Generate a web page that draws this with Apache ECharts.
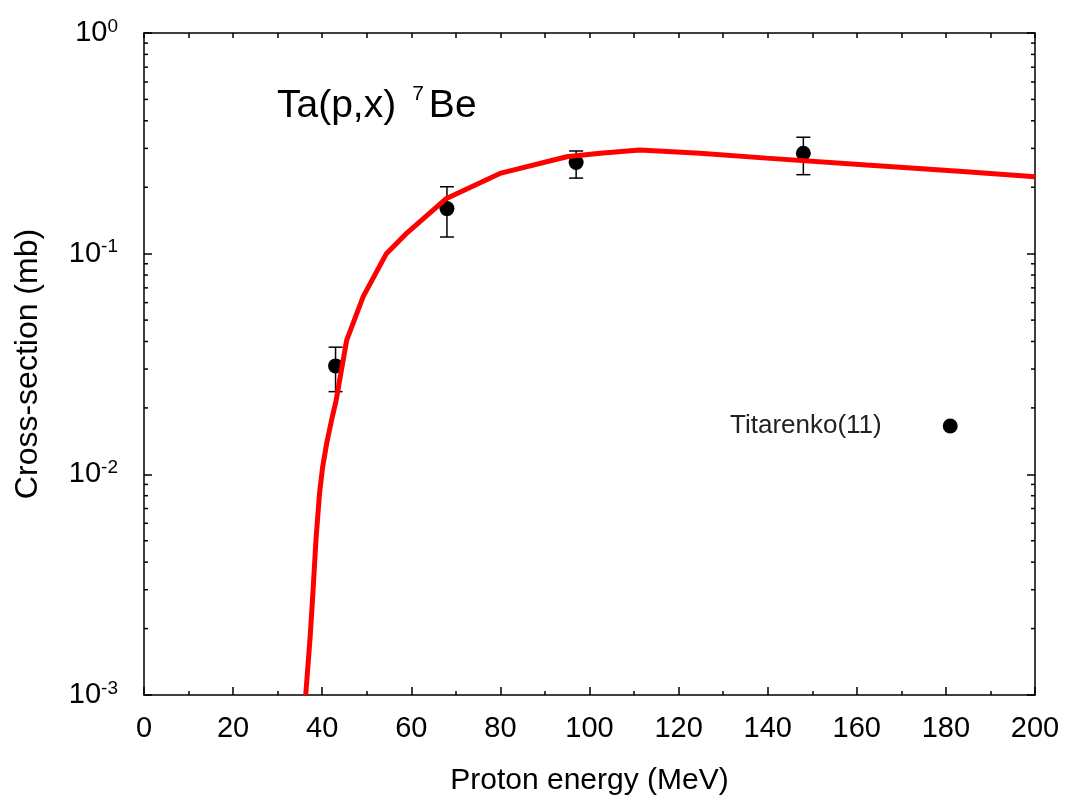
<!DOCTYPE html>
<html><head><meta charset="utf-8">
<script src="https://cdn.jsdelivr.net/npm/echarts@6/dist/echarts.min.js"></script>
<style>html,body{margin:0;padding:0;background:#fff}#c{width:1067px;height:804px}</style>
</head><body><div id="c"></div>
<script>
// ---- data ----
const curveE  = [36.3, 37.3, 38.0, 38.6, 39.4, 40.1, 41.0, 42.1, 43.1, 45.5, 49.2, 54.4, 59.0, 67.9, 79.9, 94.9, 102.4, 111.3, 124.8, 139.7, 162.2, 184.6, 200];
const curveXS = [0.00100, 0.00184, 0.0031, 0.00505, 0.0082, 0.0108, 0.0138, 0.0176, 0.0215, 0.0406, 0.0639, 0.100, 0.124, 0.178, 0.231, 0.275, 0.285, 0.295, 0.285, 0.271, 0.252, 0.235, 0.223];
const expE  = [43, 68, 97, 148];
const expXS = [0.031, 0.160, 0.259, 0.285];
const expLo = [0.0237, 0.119, 0.220, 0.228];
const expHi = [0.0377, 0.201, 0.292, 0.337];
const expName = 'Titarenko(11)';
const minorMult = [2, 3, 4, 5, 6, 7, 8, 9];
const decades = [0.001, 0.01, 0.1];

const FONT = "'Liberation Sans', Arial, sans-serif";
const minorVals = [];
decades.forEach(d => minorMult.forEach(m => minorVals.push([d * m])));

const chart = echarts.init(document.getElementById('c'));
chart.setOption({
  animation: false,
  backgroundColor: '#fff',
  textStyle: { fontFamily: FONT },
  title: {
    text: '{a|Ta(p,x)}{s|7}{a|Be}',
    left: 272, top: 79,
    textStyle: {
      fontWeight: 'normal', fontSize: 39, fontFamily: FONT,
      rich: {
        a: { fontSize: 39, lineHeight: 44, fontWeight: 'normal', color: '#000', fontFamily: FONT },
        s: { fontSize: 21, lineHeight: 21, fontWeight: 'normal', verticalAlign: 'top', color: '#000', fontFamily: FONT, padding: [0, 5, 0, 16] }
      }
    }
  },
  legend: {
    data: [{ name: expName, icon: 'circle', itemStyle: { color: '#000', opacity: 1 } }],
    left: 725, top: 408, align: 'right',
    itemWidth: 15, itemHeight: 15,
    textStyle: { fontSize: 26, color: '#222', fontFamily: FONT, padding: [0, 56, 0, 0] }
  },
  grid: { left: 144, right: 32, top: 33, bottom: 109, containLabel: false },
  xAxis: [{
    type: 'value', min: 0, max: 200, interval: 20, position: 'bottom',
    name: 'Proton energy (MeV)', nameLocation: 'middle', nameGap: 71,
    nameTextStyle: { fontSize: 30, fontWeight: 'normal', color: '#000', fontFamily: FONT },
    axisLine: { onZero: false, lineStyle: { color: '#000', width: 1.5 } },
    axisTick: { inside: true, length: 8, lineStyle: { color: '#000', width: 1.5 } },
    minorTick: { show: true, splitNumber: 2, length: 4, lineStyle: { color: '#000', width: 1.5 } },
    axisLabel: { fontSize: 29, color: '#000', margin: 19, fontFamily: FONT },
    splitLine: { show: false }
  }, {
    type: 'value', min: 0, max: 200, interval: 10, position: 'top',
    axisLine: { onZero: false, lineStyle: { color: '#000', width: 1.5 } },
    axisTick: { inside: true, length: 5, lineStyle: { color: '#000', width: 1.5 } },
    axisLabel: { show: false }, splitLine: { show: false }
  }],
  yAxis: [{
    type: 'log', logBase: 10, min: 0.001, max: 1, position: 'left',
    name: 'Cross-section (mb)', nameLocation: 'middle', nameGap: 100,
    nameTextStyle: { fontSize: 32, fontWeight: 'normal', color: '#000', fontFamily: FONT },
    axisLine: { onZero: false, lineStyle: { color: '#000', width: 1.5 } },
    axisTick: { inside: true, length: 8, lineStyle: { color: '#000', width: 1.5 } },
    axisLabel: {
      margin: 26, color: '#000', fontSize: 29, fontFamily: FONT,
      formatter: v => '{b|10}{s|' + Math.round(Math.log10(v)) + '}',
      rich: {
        b: { fontSize: 29, lineHeight: 32, color: '#000', fontFamily: FONT },
        s: { fontSize: 19, lineHeight: 19, verticalAlign: 'top', color: '#000', fontFamily: FONT }
      }
    },
    splitLine: { show: false }
  }, {
    type: 'log', logBase: 10, min: 0.001, max: 1, position: 'right',
    axisLine: { onZero: false, lineStyle: { color: '#000', width: 1.5 } },
    axisTick: { inside: true, length: 8, lineStyle: { color: '#000', width: 1.5 } },
    axisLabel: { show: false }, splitLine: { show: false }
  }],
  series: [
    {
      type: 'custom', name: 'minorTicks', silent: true, z: 1,
      data: minorVals,
      encode: { y: 0 },
      renderItem: (params, api) => {
        const v = api.value(0);
        const l = api.coord([0, v]);
        const r = api.coord([200, v]);
        const st = { stroke: '#000', lineWidth: 1.5 };
        return { type: 'group', children: [
          { type: 'line', shape: { x1: l[0], y1: l[1], x2: l[0] + 4, y2: l[1] }, style: st },
          { type: 'line', shape: { x1: r[0], y1: r[1], x2: r[0] - 4, y2: r[1] }, style: st }
        ]};
      }
    },
    {
      type: 'custom', name: 'errors', silent: true, z: 2,
      data: expE.map((e, i) => [e, expLo[i], expHi[i]]),
      encode: { x: 0, y: [1, 2] },
      renderItem: (params, api) => {
        const x = api.value(0);
        const lo = api.coord([x, api.value(1)]);
        const hi = api.coord([x, api.value(2)]);
        const w = 7;
        const st = { stroke: '#000', lineWidth: 1.5 };
        return { type: 'group', children: [
          { type: 'line', shape: { x1: lo[0], y1: lo[1], x2: hi[0], y2: hi[1] }, style: st },
          { type: 'line', shape: { x1: lo[0] - w, y1: lo[1], x2: lo[0] + w, y2: lo[1] }, style: st },
          { type: 'line', shape: { x1: hi[0] - w, y1: hi[1], x2: hi[0] + w, y2: hi[1] }, style: st }
        ]};
      }
    },
    {
      type: 'scatter', name: expName, z: 3,
      data: expE.map((e, i) => [e, expXS[i]]),
      symbol: 'circle', symbolSize: 15,
      itemStyle: { color: '#000', opacity: 1 }
    },
    {
      type: 'line', name: 'calc', z: 4,
      data: curveE.map((e, i) => [e, curveXS[i]]),
      showSymbol: false, symbol: 'none', smooth: false,
      lineStyle: { color: '#ff0000', width: 5 },
      itemStyle: { color: '#ff0000' }
    }
  ]
});
</script>
</body></html>
